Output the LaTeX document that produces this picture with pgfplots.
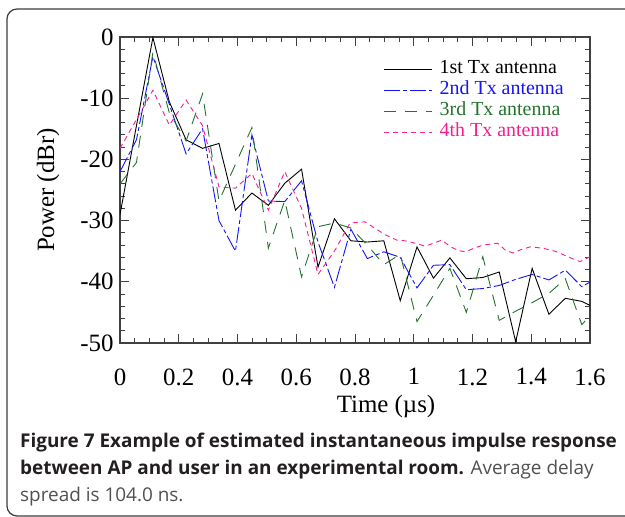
\documentclass[border=0pt]{standalone}
\usepackage{pgfplots}
\pgfplotsset{compat=1.18}
\usepackage{pgfplotstable}
\usepackage{fontspec}
\setmainfont{Liberation Serif}
\newfontfamily\capfont{Open Sans}
\definecolor{cblue}{RGB}{20,20,245}
\definecolor{cgreen}{RGB}{35,115,45}
\definecolor{cpink}{RGB}{245,30,145}
\definecolor{cframe}{RGB}{60,60,60}
\definecolor{ccap}{RGB}{35,31,32}
\definecolor{ccapreg}{RGB}{80,80,80}

\pgfplotstableread{
t v
0.000 -29.0
0.056 -14.5
0.112 -0.1
0.168 -10.6
0.225 -16.8
0.281 -18.2
0.337 -17.4
0.393 -28.3
0.449 -25.5
0.505 -27.5
0.561 -23.9
0.618 -21.6
0.674 -37.6
0.730 -29.7
0.786 -33.3
0.842 -33.5
0.898 -33.3
0.954 -43.1
1.011 -34.3
1.067 -39.4
1.123 -36.1
1.179 -39.5
1.235 -39.3
1.291 -38.4
1.347 -49.8
1.403 -37.8
1.460 -45.3
1.516 -42.7
1.572 -43.2
1.628 -44.5
}\first

\pgfplotstableread{
t v
0.000 -22.0
0.056 -16.8
0.112 -3.2
0.168 -11.0
0.225 -19.1
0.281 -15.0
0.337 -30.0
0.393 -35.0
0.449 -16.0
0.505 -26.8
0.561 -26.9
0.618 -23.5
0.674 -33.5
0.730 -40.9
0.786 -31.4
0.842 -36.2
0.898 -35.1
0.954 -36.0
1.011 -41.0
1.067 -37.3
1.123 -37.2
1.179 -41.3
1.235 -41.1
1.291 -40.6
1.347 -39.6
1.403 -38.8
1.460 -39.7
1.516 -38.1
1.572 -40.8
1.628 -39.3
}\second

\pgfplotstableread{
t v
0.000 -24.0
0.056 -20.5
0.112 -2.5
0.168 -12.4
0.225 -17.0
0.281 -9.3
0.337 -26.8
0.393 -20.8
0.449 -14.8
0.505 -34.5
0.561 -26.7
0.618 -39.2
0.674 -31.0
0.730 -30.4
0.786 -31.2
0.842 -34.0
0.898 -37.2
0.954 -35.5
1.011 -46.5
1.067 -42.2
1.123 -37.8
1.179 -45.0
1.235 -35.9
1.291 -46.3
1.347 -44.8
1.403 -43.4
1.460 -41.9
1.516 -39.5
1.572 -47.0
1.628 -44.0
}\third

\pgfplotstableread{
t v
0.000 -18.2
0.056 -13.5
0.112 -8.7
0.168 -14.4
0.225 -10.3
0.281 -14.5
0.337 -24.5
0.393 -24.7
0.449 -22.3
0.505 -28.3
0.561 -22.0
0.618 -28.0
0.674 -38.8
0.730 -35.0
0.783 -30.4
0.834 -30.2
0.902 -32.3
0.943 -33.2
0.970 -33.3
1.014 -33.8
1.038 -34.2
1.072 -33.6
1.096 -33.2
1.123 -34.2
1.151 -34.9
1.178 -35.1
1.205 -34.5
1.236 -34.0
1.266 -33.8
1.286 -33.7
1.311 -34.8
1.338 -35.3
1.362 -34.8
1.396 -34.3
1.420 -34.4
1.447 -34.6
1.481 -35.0
1.515 -35.7
1.549 -36.4
1.566 -36.7
1.600 -35.9
}\fourth

\begin{document}
\begin{tikzpicture}[x=1bp,y=1bp]
\useasboundingbox (0,0) rectangle (625,517);
\begin{scope}
\clip (0,0) rectangle (625,517);
\draw[line width=1.2bp, color=cframe, rounded corners=10bp] (7,1) rectangle (640,508);
\end{scope}

\begin{axis}[
  at={(120bp,174bp)}, anchor=south west,
  scale only axis, width=470bp, height=306bp,
  xmin=0, xmax=1.6, ymin=-50, ymax=0,
  xtick={0,0.2,0.4,0.6,0.8,1,1.2,1.4,1.6},
  xticklabels={0,0.2,0.4,0.6,0.8,1,1.2,1.4,1.6},
  ytick={-50,-40,-30,-20,-10,0},
  yticklabels={-50,-40,-30,-20,-10,0},
  minor x tick num=3, minor y tick num=4,
  tick align=inside,
  major tick length=9bp, minor tick length=5bp,
  axis line style={line width=1.3bp, color=black!75},
  tick style={line width=1bp, color=black!75},
  ticklabel style={font=\fontsize{25}{30}\selectfont},
  xticklabel style={yshift=-22bp},
  yticklabel style={xshift=-3bp},
  label style={font=\fontsize{25}{30}\selectfont},
  xlabel={Time (µs)},
  xlabel style={at={(axis description cs:0.566,-0.209)}, anchor=center},
  ylabel={Power (dBr)},
  ylabel style={at={(axis description cs:-0.153,0.5)}, anchor=center},
  legend style={draw=none, fill=none, at={(axis description cs:0.5535,0.937)}, anchor=north west,
    font=\fontsize{20}{24}\selectfont, row sep=0bp,
    nodes={inner sep=1.5bp, text height=14bp, text depth=4bp}},
  legend cell align=left,
  legend image code/.code={\draw[#1] (0bp,0bp) -- (48bp,0bp); \path (54bp,0bp);},
]
\addplot[black, line width=0.9bp] table[x=t,y=v] {\first};
\addlegendentry{1st Tx antenna}
\addplot[cblue, line width=0.9bp, dash pattern=on 16bp off 3bp on 4bp off 3bp] table[x=t,y=v] {\second};
\addlegendentry{\textcolor{cblue}{2nd Tx antenna}}
\addplot[cgreen, line width=0.9bp, dash pattern=on 12bp off 9bp] table[x=t,y=v] {\third};
\addlegendentry{\textcolor{cgreen}{3rd Tx antenna}}
\addplot[cpink, line width=0.9bp, dash pattern=on 5bp off 4bp] table[x=t,y=v] {\fourth};
\addlegendentry{\textcolor{cpink}{4th Tx antenna}}
\end{axis}

\node[anchor=base west, inner sep=0] at (20,69) {\capfont\fontsize{19}{23}\selectfont\bfseries\color{ccap}Figure 7 Example of estimated instantaneous impulse response};
\node[anchor=base west, inner sep=0] at (20,42) {\capfont\fontsize{19}{23}\selectfont{\bfseries\color{ccap}between AP and user in an experimental room.} \color{ccapreg}Average delay};
\node[anchor=base west, inner sep=0] at (20,15) {\capfont\fontsize{19}{23}\selectfont\color{ccapreg}spread is 104.0 ns.};
\end{tikzpicture}
\end{document}
